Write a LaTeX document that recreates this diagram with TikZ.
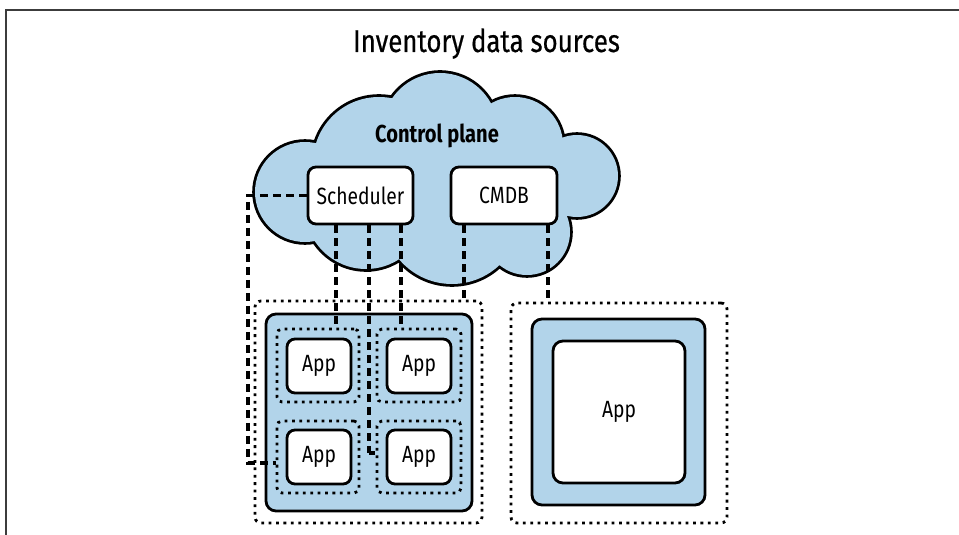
\documentclass[tikz,border=0pt]{standalone}
\usepackage{fontspec}
\setmainfont{Fira Sans}[FakeStretch=0.82]
\newfontfamily\headfont{Fira Sans}[FakeStretch=0.82, FakeBold=0.5]
\definecolor{cloudblue}{RGB}{178,212,234}
\definecolor{framegray}{RGB}{60,60,60}
\tikzset{
  outline/.style={draw=black, line width=2.8pt},
  label font/.style={font=\fontsize{23.5}{28}\selectfont},
  whitebox/.style={outline, fill=white, rounded corners=8pt, inner sep=0pt, label font},
  hostbox/.style={outline, fill=cloudblue, rounded corners=10pt, inner sep=0pt},
  dotbox/.style={draw=black, line width=2.8pt, dash pattern=on 2.8pt off 4.6pt, rounded corners=5pt, inner sep=0pt},
  conn/.style={draw=black, line width=3.4pt, dash pattern=on 8pt off 5pt},
  boxsize/.style 2 args={minimum width=#1pt, minimum height=#2pt},
}
\begin{document}
\begin{tikzpicture}[x=1pt, y=-1pt]
  \useasboundingbox (0,0) rectangle (959,535);

  % page frame
  \draw[line width=1.8pt, framegray] (6,535) -- (6,10) -- (959,10);

  \node[font=\headfont\fontsize{31.5}{36}\selectfont, anchor=base] (title) at (486.5,52) {Inventory data sources};

  % control plane cloud: stroked circles, then filled again to keep only the outer outline
  \def\cloudparts{(305,192) circle[radius=50]
                  (379,163) circle[radius=66]
                  (440,131) circle[radius=58]
                  (515,145) circle[radius=48]
                  (577,176) circle[radius=41]
                  (527,232) circle[radius=43]
                  (452,215) circle[radius=69]
                  (366,208) circle[radius=61]}
  \draw[outline, line width=5.6pt] \cloudparts;
  \fill[cloudblue] \cloudparts;
  \coordinate (cloud) at (440,180);

  \node[font=\bfseries\fontsize{24.5}{28}\selectfont, anchor=base] (ctrl) at (437,142) {Control plane};
  \node[whitebox, boxsize={105}{57}] (sched) at (360.5,195.5) {Scheduler};
  \node[whitebox, boxsize={106}{57}] (cmdb) at (504,195.5) {CMDB};

  % left machine with four pods
  \node[dotbox, boxsize={227}{222}, rounded corners=6pt] (nodeL) at (368.5,412) {};
  \node[hostbox, boxsize={206}{197}] (hostL) at (369,412.5) {};
  \node[dotbox, boxsize={82}{73}] (podTL) at (318,365.5) {};
  \node[dotbox, boxsize={84}{73}] (podTR) at (419,365.5) {};
  \node[dotbox, boxsize={82}{72}] (podBL) at (318,457) {};
  \node[dotbox, boxsize={84}{72}] (podBR) at (419,457) {};
  \node[whitebox, boxsize={64}{54}] (appTL) at (319,366) {App};
  \node[whitebox, boxsize={64}{54}] (appTR) at (419,366) {App};
  \node[whitebox, boxsize={64}{54}] (appBL) at (319,457) {App};
  \node[whitebox, boxsize={64}{54}] (appBR) at (419,457) {App};

  % right machine with a single app
  \node[dotbox, boxsize={216}{220}, rounded corners=6pt] (nodeR) at (619,413) {};
  \node[hostbox, boxsize={173}{186}] (hostR) at (618.5,412) {};
  \node[whitebox, boxsize={132}{142}, rounded corners=10pt] (appR) at (619,412) {App};

  % data source links
  \coordinate (bend) at (248,195.5);
  \coordinate (schedMid) at ([xshift=8.5pt]sched.south);
  \coordinate (brIn) at ([yshift=4pt]podBR.west);
  \coordinate (corner) at (schedMid |- brIn);
  \draw[conn] (sched.west) -- (bend) |- ([yshift=-6pt]podBL.west);
  \draw[conn] ([xshift=-24.5pt]sched.south) -- ([xshift=-24.5pt]sched.south |- podTL.north);
  \draw[conn] (schedMid) -- (corner);
  \draw[conn, dash pattern=on 6pt off 2pt] (corner) -- (brIn);
  \draw[conn] ([xshift=40.5pt]sched.south) -- ([xshift=40.5pt]sched.south |- podTR.north);
  \draw[conn] ([xshift=-40pt]cmdb.south) -- ([xshift=-40pt]cmdb.south |- nodeL.north);
  \draw[conn] ([xshift=44pt]cmdb.south) -- ([xshift=44pt]cmdb.south |- nodeR.north);
\end{tikzpicture}
\end{document}
